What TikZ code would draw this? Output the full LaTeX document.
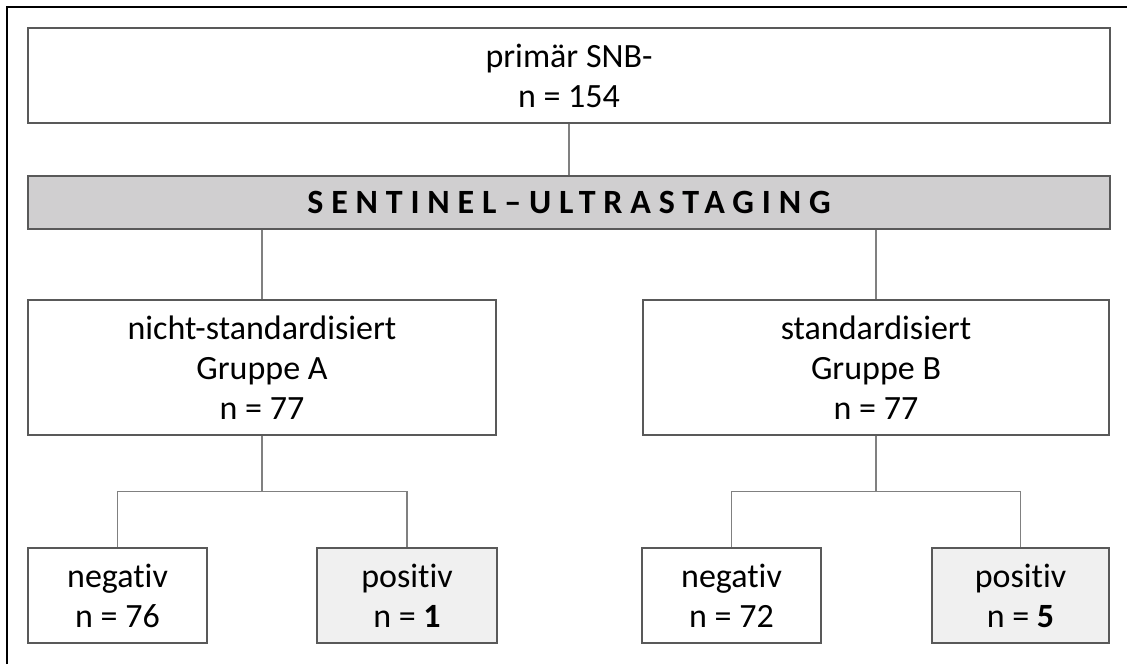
\documentclass[tikz,border=0pt]{standalone}
\usepackage{fontspec}
\setmainfont{Carlito}[Ligatures=NoCommon]
\usetikzlibrary{calc}
\definecolor{barfill}{RGB}{208,207,208}
\definecolor{hitfill}{RGB}{240,240,240}

\begin{document}
\begin{tikzpicture}[x=1pt,y=-1pt]
\tikzstyle{box}=[draw=black!65, line width=1.3pt, align=center, inner sep=0pt, font=\fontsize{34}{40}\selectfont]
\tikzstyle{hit}=[box, fill=hitfill]
\tikzstyle{link}=[draw=black!50, line width=1.2pt]

\useasboundingbox (0,0) rectangle (1127,664);
\draw[line width=2pt] (7,664) |- (1127,7);

% top rows
\node[box, minimum width=1082pt, minimum height=95pt] (prim) at (569,75.5) {primär SNB-\\n = 154};
\node[box, fill=barfill, minimum width=1082pt, minimum height=53pt] (ultra) at (569,202.5)
  {\bfseries\addfontfeature{LetterSpace=23}SENTINEL–ULTRASTAGING};

% groups
\node[box, minimum width=468pt, minimum height=135pt] (grpA) at (262,367.5) {nicht-standardisiert\\Gruppe A\\n = 77};
\node[box, minimum width=466pt, minimum height=135pt] (grpB) at (876,367.5) {standardisiert\\Gruppe B\\n = 77};

% results
\node[box, minimum width=179pt, minimum height=95pt] (negA) at (117.5,595.5) {negativ\\n = 76};
\node[hit, minimum width=180pt, minimum height=95pt] (posA) at (407,595.5) {positiv\\n = \textbf{1}};
\node[box, minimum width=179pt, minimum height=95pt] (negB) at (731.5,595.5) {negativ\\n = 72};
\node[hit, minimum width=177pt, minimum height=95pt] (posB) at (1020.5,595.5) {positiv\\n = \textbf{5}};

\coordinate (jA) at ($(grpA.south)!0.5!(grpA.south |- negA.north)$);
\coordinate (jB) at ($(grpB.south)!0.5!(grpB.south |- negB.north)$);

\draw[link] (prim.south) -- (ultra.north);
\draw[link] (ultra.south -| grpA.north) -- (grpA.north);
\draw[link] (ultra.south -| grpB.north) -- (grpB.north);
\draw[link] (grpA.south) -- (jA) -| (negA.north);
\draw[link] (jA) -| (posA.north);
\draw[link] (grpB.south) -- (jB) -| (negB.north);
\draw[link] (jB) -| (posB.north);
\end{tikzpicture}
\end{document}
